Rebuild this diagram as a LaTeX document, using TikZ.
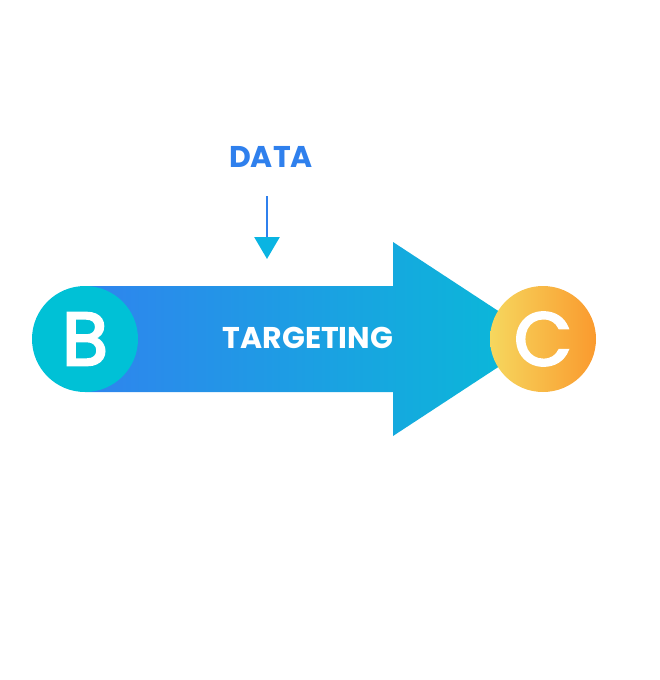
\documentclass[tikz,border=0pt]{standalone}
\usepackage{fontspec}
\setmainfont{Poppins}
\newfontfamily\popmed{Poppins}[FakeBold=3.2]
\usetikzlibrary{arrows.meta}
\definecolor{blueA}{HTML}{2F84EE}
\definecolor{cyanA}{HTML}{08BBD7}
\definecolor{cyanB}{HTML}{00C1D6}
\definecolor{yelA}{HTML}{F6D75E}
\definecolor{oraA}{HTML}{FA9A2E}
\definecolor{dataBlue}{HTML}{2F80ED}
\definecolor{tipCyan}{HTML}{0AB4E2}
\begin{document}
\begin{tikzpicture}[x=1pt,y=-1pt,
  letterdisc/.style={circle,minimum size=106pt,inner sep=0pt,text=white,font=\popmed\fontsize{75}{75}\selectfont},
  lbl/.style={font=\bfseries\fontsize{30}{30}\selectfont}]
\useasboundingbox (0,0) rectangle (660,680);
% big arrow
\shade[left color=blueA,right color=cyanA]
  (85,286) -- (393,286) -- (393,242) -- (541,339) -- (393,436) -- (393,392) -- (85,392) -- cycle;
\node[letterdisc,fill=cyanB] (B) at (85,339) {B};
\shade[left color=yelA,right color=oraA] (543,339) circle[radius=53pt];
\node[letterdisc] (C) at (543,339) {C};
\node[lbl,text=white] (T) at (308,338) {TARGETING};
\node[lbl,text=dataBlue] (D) at (271,157) {DATA};
\coordinate (s) at (267,196);
\coordinate (e) at (267,259);
\draw[dataBlue,line width=2.8pt,-{Triangle[width=25pt,length=22pt,color=tipCyan]}] (s) -- (e);
\end{tikzpicture}
\end{document}
